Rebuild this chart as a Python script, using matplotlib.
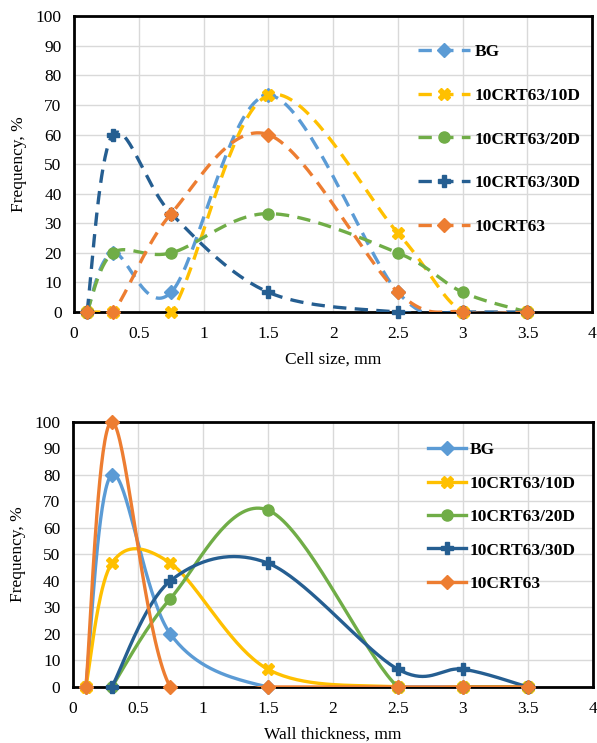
import numpy as np
import matplotlib
matplotlib.use("Agg")
import matplotlib.pyplot as plt
from matplotlib.lines import Line2D

#%% data

x_pts = [0.1, 0.3, 0.75, 1.5, 2.5, 3, 3.5]
names = ["BG", "10CRT63/10D", "10CRT63/20D", "10CRT63/30D", "10CRT63"]

cell_bg = [0, 20, 6.7, 73.3, 6.7, 0, 0]
cell_10d = [0, 0, 0, 73.3, 26.7, 0, 0]
cell_20d = [0, 20, 20, 33.3, 20, 6.7, 0]
cell_30d = [0, 60, 33.3, 6.7, 0, 0, 0]
cell_crt = [0, 0, 33.3, 60, 6.7, 0, 0]

wall_x_bg = [0.1, 0.3, 0.75, 1.5, 2.5, 3, 3.5]
wall_bg = [0, 80, 20, 0, 0, 0, 0]
wall_x_10d = [0.1, 0.3, 0.75, 1.5, 2.5, 3, 3.5]
wall_10d = [0, 46.7, 46.7, 6.7, 0, 0, 0]
wall_x_20d = [0.3, 0.75, 1.5, 2.5, 3, 3.5]
wall_20d = [0, 33.3, 66.7, 0, 0, 0]
wall_x_30d = [0.3, 0.75, 1.5, 2.5, 3, 3.5]
wall_30d = [0, 40, 46.7, 6.7, 6.7, 0]
wall_x_crt = [0.1, 0.3, 0.75, 1.5, 2.5, 3, 3.5]
wall_crt = [0, 100, 0, 0, 0, 0, 0]

colors = ["#5B9BD5", "#FFC000", "#70AD47", "#255E91", "#ED7D31"]
markers = ["D", "X", "o", "P", "D"]
msizes = [7, 8, 8, 8, 7]
fs = 12.5

plt.rcParams['font.family'] = ['Liberation Serif', 'DejaVu Serif']

#%% excel-like smoothing


def smooth(x, y, sx, sy, n=40):
    P = np.column_stack([np.array(x) * sx, np.array(y) * sy])
    m = len(P)
    out = [P[0]]
    t = np.linspace(0, 1, n)[1:, None]
    for i in range(m - 1):
        p0 = P[max(i - 1, 0)]
        p1 = P[i]
        p2 = P[i + 1]
        p3 = P[min(i + 2, m - 1)]
        c1 = p1 + (p2 - p0) / 6
        c2 = p2 - (p3 - p1) / 6
        seg = (1 - t) ** 3 * p1 + 3 * (1 - t) ** 2 * t * c1 + 3 * (1 - t) * t ** 2 * c2 + t ** 3 * p2
        out.extend(seg)
    out = np.array(out)
    return out[:, 0] / sx, out[:, 1] / sy


def setup(ax, xlabel):
    ax.set_xlim(0, 4)
    ax.set_ylim(0, 100)
    ax.set_xticks(np.arange(0, 4.01, 0.5))
    ax.set_xticklabels(["0", "0.5", "1", "1.5", "2", "2.5", "3", "3.5", "4"])
    ax.set_yticks(range(0, 101, 10))
    ax.grid(True, color="#D9D9D9", linewidth=1)
    ax.set_axisbelow(True)
    ax.tick_params(axis="x", length=0, labelsize=fs, pad=10)
    ax.tick_params(axis="y", length=0, labelsize=fs, pad=9)
    for s in ax.spines.values():
        s.set_linewidth(2)
        s.set_color("black")
        s.set_zorder(2.5)
    ax.set_xlabel(xlabel, fontsize=fs, labelpad=7)
    ax.set_ylabel("Frequency, %", fontsize=fs, labelpad=6)


fig = plt.figure(figsize=(5.97, 7.43), dpi=100)

#%% top: cell size

ax1 = fig.add_axes([0.124, 0.580, 0.868, 0.398])
setup(ax1, "Cell size, mm")
sx1, sy1 = 518 / 4, 296 / 100
dash = (0, (4, 2.5))
handles = []
top_series = [cell_bg, cell_10d, cell_20d, cell_30d, cell_crt]
for i, ys in enumerate(top_series):
    xs, yy = smooth(x_pts, ys, sx1, sy1)
    ax1.plot(xs, yy, color=colors[i], lw=2.4, ls=dash, zorder=3 + i)
    ax1.plot(x_pts, ys, ls="none", marker=markers[i], ms=msizes[i], color=colors[i],
             zorder=3 + i, clip_on=False)
    handles.append(Line2D([], [], color=colors[i], lw=2.4, ls=dash,
                          marker=markers[i], ms=msizes[i]))
ax1.legend(handles, names, loc="upper left", bbox_to_anchor=(0.648, 0.935),
           frameon=False, handlelength=2.95, handletextpad=0.3, labelspacing=1.58,
           borderpad=0, prop={"weight": "bold", "size": fs})

#%% bottom: wall thickness

ax2 = fig.add_axes([0.122, 0.0754, 0.871, 0.357])
setup(ax2, "Wall thickness, mm")
sx2, sy2 = 520 / 4, 265 / 100
bot_x = [wall_x_bg, wall_x_10d, wall_x_20d, wall_x_30d, wall_x_crt]
bot_y = [wall_bg, wall_10d, wall_20d, wall_30d, wall_crt]
handles = []
for i in range(5):
    xs, yy = smooth(bot_x[i], bot_y[i], sx2, sy2)
    ax2.plot(xs, yy, color=colors[i], lw=2.4, zorder=3 + i)
    ax2.plot(bot_x[i], bot_y[i], ls="none", marker=markers[i], ms=msizes[i], color=colors[i],
             zorder=3 + i, clip_on=False)
    handles.append(Line2D([], [], color=colors[i], lw=2.4, marker=markers[i], ms=msizes[i]))
ax2.legend(handles, names, loc="upper left", bbox_to_anchor=(0.666, 0.955),
           frameon=False, handlelength=2.2, handletextpad=0.2, labelspacing=0.99,
           borderpad=0, prop={"weight": "bold", "size": fs})

fig.savefig("out.png", dpi=100)
